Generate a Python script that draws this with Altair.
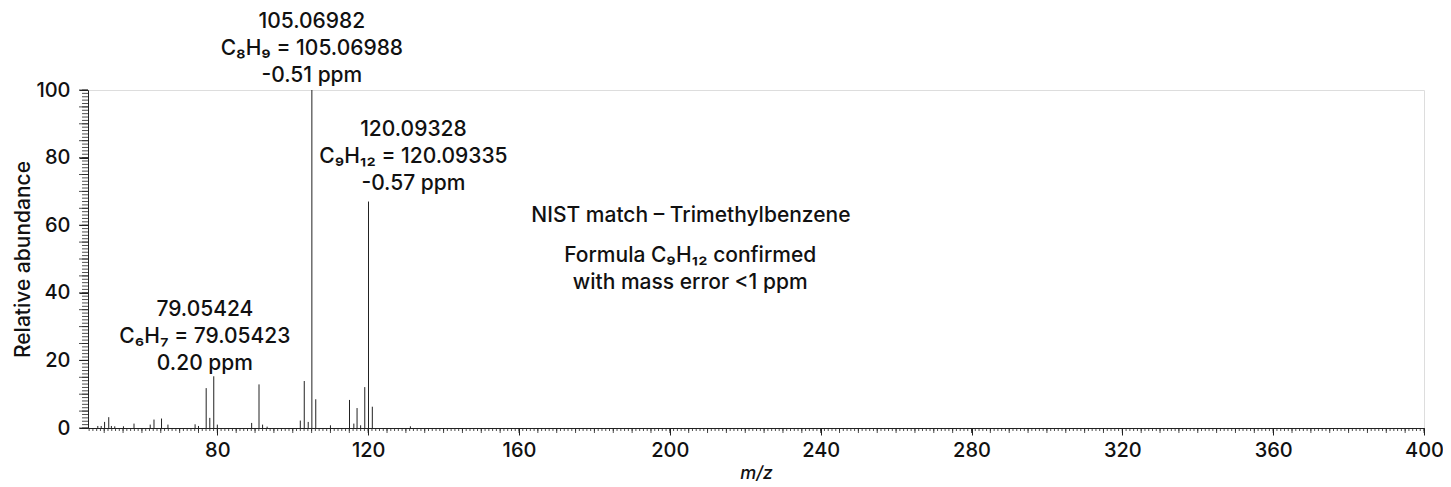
import altair as alt
import pandas as pd

# ---- spectrum data (m/z, relative abundance) ----
mz = [48.3, 49.2, 50.1, 51.2, 51.9, 52.8, 55.1, 57.9, 62.2, 63.2, 65.2, 66.9,
      74.1, 75.0, 77.04, 78.0, 79.05, 80.0, 89.1, 91.05, 92.0, 93.2,
      102.0, 103.05, 104.1, 105.07, 106.1, 110.0, 115.05, 116.2, 117.05, 118.0,
      119.1, 120.09, 121.1, 131.2]
abund = [0.6, 0.6, 1.8, 3.2, 0.6, 0.5, 0.5, 1.3, 1.0, 2.5, 2.8, 1.0,
         1.1, 0.6, 11.8, 3.0, 15.3, 1.0, 1.5, 12.9, 1.0, 0.4,
         2.2, 13.9, 1.8, 100.0, 8.5, 0.8, 8.3, 1.3, 5.9, 0.8,
         12.1, 67.0, 6.3, 0.5]

# ---- annotation texts ----
ann_text = [
    "105.06982\nC₈H₉ = 105.06988\n-0.51 ppm",
    "120.09328\nC₉H₁₂ = 120.09335\n-0.57 ppm",
    "79.05424\nC₆H₇ = 79.05423\n0.20 ppm",
    "NIST match – Trimethylbenzene",
    "Formula C₉H₁₂ confirmed\nwith mass error <1 ppm",
]
ann_x = [105.07, 132.0, 76.7, 205.6, 205.4]
ann_y = [120.2, 88.2, 34.8, 62.6, 50.8]

# ---- axis ticks ----
x_labels = [80, 120, 160, 200, 240, 280, 320, 360, 400]
y_labels = [0, 20, 40, 60, 80, 100]
x_minor = list(range(46, 401))
x_mid = list(range(50, 401, 5))
y_minor = list(range(0, 101))
y_mid = list(range(0, 101, 5))

X_DOMAIN = [45.7, 400]
Y_DOMAIN = [0, 100]
W, H = 1336, 338
FONT = "Inter"
WEIGHT = 500
INK = "#222222"

peaks = pd.DataFrame({"mz": mz, "abund": abund})
ann = pd.DataFrame({"x": ann_x, "y": ann_y, "t": ann_text})

xs = alt.Scale(domain=X_DOMAIN, nice=False, zero=False)
ys = alt.Scale(domain=Y_DOMAIN, nice=False)

base_peaks = alt.Chart(peaks).mark_rule(color=INK, strokeWidth=1).encode(
    x=alt.X("mz:Q", scale=xs,
            axis=alt.Axis(values=x_labels, title="m/z", titleFontStyle="italic",
                          titleFont=FONT, titleFontSize=18, titleFontWeight=WEIGHT,
                          titleColor="#111", titlePadding=4,
                          labelFont=FONT, labelFontSize=20, labelFontWeight=WEIGHT,
                          labelColor="#111", labelFlush=False,
                          labelPadding=5, tickSize=7, tickColor=INK,
                          domainColor=INK, grid=False)),
    y=alt.Y("abund:Q", scale=ys,
            axis=alt.Axis(values=y_labels, title="Relative abundance",
                          titleFont=FONT, titleFontSize=21, titleFontWeight=WEIGHT,
                          titleColor="#111", titlePadding=2,
                          labelFont=FONT, labelFontSize=20, labelFontWeight=WEIGHT,
                          labelColor="#111", labelFlush=False,
                          labelPadding=9, tickSize=9, tickColor=INK,
                          domainColor=INK, grid=False)),
    y2=alt.datum(0),
)

xminor = alt.Chart(pd.DataFrame({"v": x_minor})).mark_rule(color=INK, strokeWidth=0.8).encode(
    x=alt.X("v:Q", scale=xs), y=alt.value(H), y2=alt.value(H + 3))
xmid = alt.Chart(pd.DataFrame({"v": x_mid})).mark_rule(color=INK, strokeWidth=0.8).encode(
    x=alt.X("v:Q", scale=xs), y=alt.value(H), y2=alt.value(H + 5))
yminor = alt.Chart(pd.DataFrame({"v": y_minor})).mark_rule(color=INK, strokeWidth=0.8).encode(
    y=alt.Y("v:Q", scale=ys), x=alt.value(0), x2=alt.value(-6))
ymid = alt.Chart(pd.DataFrame({"v": y_mid})).mark_rule(color=INK, strokeWidth=0.8).encode(
    y=alt.Y("v:Q", scale=ys), x=alt.value(0), x2=alt.value(-9))

texts = alt.Chart(ann).mark_text(
    font=FONT, fontSize=21, fontWeight=WEIGHT, color="#111", align="center",
    baseline="middle", lineBreak="\n", lineHeight=27, clip=False
).encode(x=alt.X("x:Q", scale=xs), y=alt.Y("y:Q", scale=ys), text="t:N")

chart = alt.layer(xminor, xmid, yminor, ymid, base_peaks, texts).properties(
    width=W, height=H,
    autosize=alt.AutoSizeParams(type="none"),
    padding={"left": 80, "top": 82, "right": 19, "bottom": 56},
).configure_view(stroke=None).configure(background="white")

chart.save("out.html", embed_options={"renderer": "svg", "actions": False})
